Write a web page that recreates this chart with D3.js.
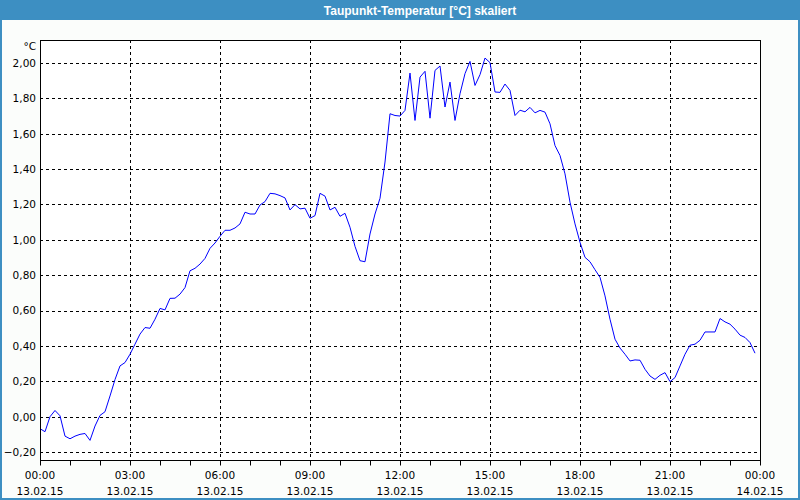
<!DOCTYPE html>
<html><head><meta charset="utf-8">
<script src="https://cdn.jsdelivr.net/npm/d3@7"></script>
<style>
html,body{margin:0;padding:0;background:#fff;}
svg{display:block;}
</style></head>
<body>
<svg id="chart" width="800" height="500"></svg>
<script>
const title = "Taupunkt-Temperatur [°C] skaliert";
const unitLabel = "°C";
const startTime = new Date(2015, 1, 13, 0, 0);
const endTime = new Date(2015, 1, 14, 0, 0);
const stepMinutes = 10;
const dewPoint = [
 -0.068,-0.085,0.00,0.035,0.005,-0.11,-0.125,-0.11,-0.10,-0.095,
 -0.134,-0.053,0.007,0.028,0.117,0.21,0.287,0.306,0.353,0.41,
 0.467,0.504,0.50,0.551,0.612,0.604,0.669,0.67,0.693,0.73,
 0.825,0.839,0.863,0.895,0.952,0.982,1.02,1.054,1.054,1.067,
 1.09,1.156,1.146,1.146,1.197,1.216,1.263,1.26,1.25,1.237,
 1.169,1.199,1.175,1.179,1.122,1.137,1.263,1.247,1.169,1.184,
 1.133,1.15,1.071,0.963,0.882,0.876,1.033,1.146,1.235,1.44,
 1.713,1.703,1.70,1.732,1.943,1.675,1.92,1.953,1.688,1.958,
 1.983,1.751,1.892,1.675,1.826,1.94,2.009,1.873,1.934,2.028,
 2.002,1.836,1.834,1.881,1.845,1.703,1.733,1.724,1.749,1.718,
 1.732,1.722,1.656,1.533,1.477,1.373,1.213,1.09,0.986,0.901,
 0.876,0.831,0.788,0.683,0.551,0.438,0.388,0.353,0.315,0.321,
 0.319,0.268,0.23,0.211,0.234,0.249,0.198,0.221,0.287,0.353,
 0.404,0.41,0.432,0.479,0.479,0.479,0.555,0.536,0.523,0.495,
 0.461,0.448,0.419,0.359
];
const yTicks = [-0.2,0,0.2,0.4,0.6,0.8,1.0,1.2,1.4,1.6,1.8,2.0];
const xTickLabels = [
 ["00:00","13.02.15"],["03:00","13.02.15"],["06:00","13.02.15"],["09:00","13.02.15"],
 ["12:00","13.02.15"],["15:00","13.02.15"],["18:00","13.02.15"],["21:00","13.02.15"],
 ["00:00","14.02.15"]
];

const svg = d3.select("#chart");
const frameBlue = "#3d8fc2";
const L = 40, R = 760, T = 40, B = 460;

svg.append("rect").attr("x",0).attr("y",0).attr("width",800).attr("height",500).attr("fill","#fbfdfb");
// frame
svg.append("rect").attr("x",0).attr("y",0).attr("width",800).attr("height",20).attr("fill",frameBlue);
svg.append("rect").attr("x",0).attr("y",0).attr("width",2).attr("height",500).attr("fill",frameBlue);
svg.append("rect").attr("x",798).attr("y",0).attr("width",2).attr("height",500).attr("fill",frameBlue);
svg.append("rect").attr("x",0).attr("y",498).attr("width",800).attr("height",2).attr("fill",frameBlue);
svg.append("text").attr("x",420).attr("y",14.5).attr("text-anchor","middle")
  .attr("fill","#fff").attr("font-family","Liberation Sans, Arial, sans-serif")
  .attr("font-weight","bold").attr("font-size","12px").text(title);

svg.append("rect").attr("x",L).attr("y",T).attr("width",R-L).attr("height",B-T).attr("fill","#fff");

const x = d3.scaleTime().domain([startTime,endTime]).range([L,R]);
const y = d3.scaleLinear().domain([-0.245,2.13]).range([B,T]);

const font = "DejaVu Sans, Verdana, sans-serif";

// grid
const gx = svg.append("g");
const majorTimes = d3.timeHour.every(3).range(startTime, d3.timeMinute.offset(endTime,1));
gx.selectAll("line.v").data(majorTimes.slice(1,-1)).join("line")
  .attr("x1",d=>Math.round(x(d))+0.5).attr("x2",d=>Math.round(x(d))+0.5)
  .attr("y1",T).attr("y2",B).attr("stroke","#000").attr("stroke-dasharray","3,3");
gx.selectAll("line.h").data(yTicks).join("line")
  .attr("x1",L).attr("x2",R)
  .attr("y1",d=>Math.round(y(d))+0.5).attr("y2",d=>Math.round(y(d))+0.5)
  .attr("stroke","#000").attr("stroke-dasharray","3,3");

// x axis
const xAxis = d3.axisBottom(x).ticks(d3.timeHour.every(1)).tickSize(5).tickFormat("");
const xg = svg.append("g").attr("transform",`translate(0.5,${B}.5)`).call(xAxis);
xg.select(".domain").remove();
xg.selectAll("line").attr("stroke","#000");
xg.selectAll("line").attr("transform","translate(-0.5,0)");

const lab = svg.append("g");
majorTimes.forEach((t,i)=>{
  const px = x(t);
  lab.append("text").attr("x",px).attr("y",479).attr("text-anchor","middle")
    .attr("font-family",font).attr("font-size","10.5px").attr("fill","#000").text(xTickLabels[i][0]);
  lab.append("text").attr("x",px).attr("y",495).attr("text-anchor","middle")
    .attr("font-family",font).attr("font-size","10.5px").attr("fill","#000").text(xTickLabels[i][1]);
});

// y axis
const yAxis = d3.axisLeft(y).tickValues(yTicks).tickSize(0).tickPadding(4)
  .tickFormat(d=>d3.format(".2f")(d).replace(".",",").replace("-0,00","0,00"));
const yg = svg.append("g").attr("transform",`translate(${L},0)`).call(yAxis);
yg.select(".domain").remove();
yg.selectAll("text").attr("font-family",font).attr("font-size","10.5px").attr("fill","#000");

svg.append("text").attr("x",36).attr("y",50).attr("text-anchor","end")
  .attr("font-family",font).attr("font-size","10.5px").attr("fill","#000").text(unitLabel);

// line
const line = d3.line()
  .x((d,i)=>x(d3.timeMinute.offset(startTime,i*stepMinutes)))
  .y(d=>y(d));
svg.append("path").datum(dewPoint).attr("d",line).attr("fill","none")
  .attr("stroke","#0000ff").attr("stroke-width",1);

// plot border
svg.append("rect").attr("x",L+0.5).attr("y",T+0.5).attr("width",R-L).attr("height",B-T)
  .attr("fill","none").attr("stroke","#000").attr("stroke-width",1);
</script>
</body></html>
